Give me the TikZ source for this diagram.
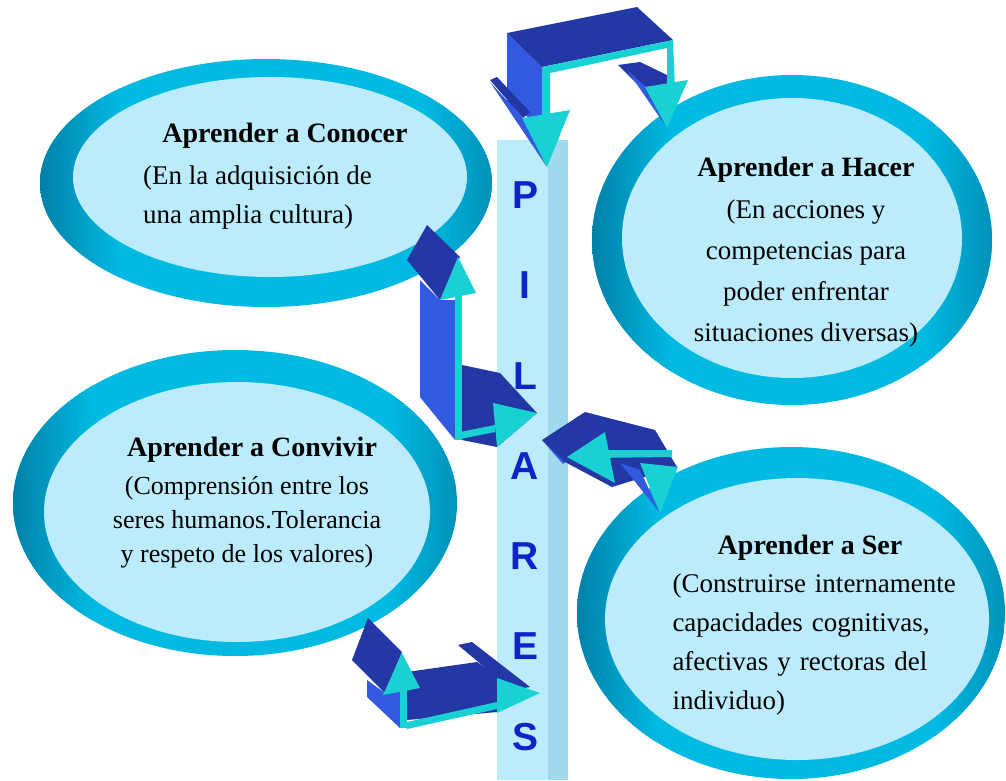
\documentclass[tikz,border=0pt]{standalone}
\usepackage{fontspec}
\setmainfont{Liberation Serif}
\newfontfamily\letrasfont{Liberation Sans}

\definecolor{anillo}{RGB}{0,186,226}
\definecolor{anillooscuro}{RGB}{0,128,168}
\definecolor{punto}{RGB}{188,236,252}
\definecolor{puntooscuro}{RGB}{160,218,240}
\definecolor{cTapa}{RGB}{35,55,165}
\definecolor{cLado}{RGB}{50,90,225}
\definecolor{cFrente}{RGB}{25,208,210}
\definecolor{cLetra}{RGB}{15,35,200}

\tikzset{
  titulo/.style={font=\fontsize{28}{34}\selectfont\bfseries, inner sep=0pt},
  texto/.style={font=\fontsize{27}{39}\selectfont, inner sep=0pt},
  letra/.style={font=\letrasfont\fontsize{39}{39}\selectfont\bfseries,
    text=cLetra, inner sep=0pt},
  tapa/.style={fill=cTapa},
  lado/.style={fill=cLado},
  frente/.style={fill=cFrente},
  punteado/.style={fill=punto},
}

\begin{document}
\begin{tikzpicture}[x=1pt,y=-1pt]

\newcommand\anillo[6]{%
  \begin{scope}[shift={(#1)}]
    \clip (0,0) ellipse [x radius=#2, y radius=#3];
    \fill[anillo] (-#2,-#3) rectangle (#2,#3);
    \shade[left color=anillooscuro, right color=anillo]
      (-#2,-#3) rectangle ({-#2+80},#3);
    \shade[left color=anillo, right color=anillooscuro!70!anillo]
      ({#2-70},-#3) rectangle (#2,#3);
  \end{scope}
  \fill[punteado] (#4) ellipse [x radius=#5, y radius=#6];
}

  \fill[white] (0,0) rectangle (1006,780);
  \useasboundingbox (0,0) rectangle (1006,780);

  %% column
  \fill[punteado] (497,140) rectangle (548,780);
  \fill[fill=puntooscuro] (548,140) rectangle (568,780);

  %% rings
  \anillo{266,183}{226}{124}{270,177}{197}{100}
  \anillo{792,240}{200}{165}{792,238}{170}{140}
  \anillo{235,503}{222}{153}{237,512}{193}{130}
  \anillo{791,613}{214}{166}{797,619}{192}{141}

  %% texts
  \node[titulo] (conocer) at (285,136) {Aprender a Conocer};
  \node[texto, anchor=west, align=left] (conocerTxt) at (143,197)
  {(En la adquisición de\\una amplia cultura)};

  \node[titulo] (hacer) at (806,170) {Aprender a Hacer};
  \node[texto, align=center, font=\fontsize{27}{41}\selectfont]
  (hacerTxt) at (806,273)
  {(En acciones y\\competencias para\\poder enfrentar\\situaciones diversas)};

  \node[titulo] (convivir) at (252,450) {Aprender a Convivir};
  \node[texto, align=center, font=\fontsize{26}{34}\selectfont]
  (convivirTxt) at (247,522)
  {(Comprensión entre los\\seres humanos.Tolerancia\\y respeto de los valores)};

  \node[titulo] (ser) at (810,548) {Aprender a Ser};
  \node[texto, align=left, text width=275pt] (serTxt) at (810,644)
  {\makebox[\linewidth][s]{(Construirse internamente}\\
   \makebox[\linewidth][s]{capacidades cognitivas,}\\
   \makebox[\linewidth][s]{afectivas y rectoras del}\\
   individuo)};

  %% letters
  \foreach \l [count=\i] in {P,I,L,A,R,E,S}
    \node[letra] (letra\i) at (525,{195+(\i-1)*90.3}) {\l};

  %% top arrow
  \fill[lado] (507,33) -- (542,67) -- (542,125) -- (507,105) -- cycle;
  \fill[tapa] (507,33) -- (637,7) -- (673,40) -- (542,67) -- cycle;
  \fill[tapa] (490,80) -- (497,77) -- (530,112) -- (523,118) -- cycle;
  \fill[lado] (490,82) -- (523,118) -- (547,167) -- cycle;
  \fill[frente] (522,118) -- (570,110) -- (547,167) -- cycle;
  \fill[tapa] (618,65) -- (640,62) -- (667,75) -- (667,88) -- (650,97) -- cycle;
  \fill[lado] (627,70) -- (647,88) -- (667,128) -- cycle;
  \fill[frente] (542,67) -- (673,40) -- (675,88) -- (667,88) -- (667,48)
    -- (550,73) -- (550,120) -- (542,120) -- cycle;
  \fill[frente] (645,87) -- (688,80) -- (667,128) -- cycle;

  %% left arrow
  \fill[lado] (420,280) -- (440,300) -- (455,300) -- (455,440) -- (420,397) -- cycle;
  \fill[tapa] (407,260) -- (427,225) -- (460,257) -- (440,300) -- cycle;
  \fill[tapa] (462,365) -- (500,373) -- (537,413) -- (497,447) -- (462,440) -- cycle;
  \fill[frente] (440,300) -- (458,257) -- (476,293) -- cycle;
  \fill[frente] (455,293) -- (462,293) -- (462,440) -- (455,440) -- cycle;
  \fill[frente] (455,433) -- (495,425) -- (495,432) -- (455,440) -- cycle;
  \fill[frente] (493,403) -- (537,413) -- (497,447) -- cycle;

  %% middle arrow
  \fill[lado] (542,440) -- (570,458) -- (563,464) -- cycle;
  \fill[tapa] (542,440) -- (585,412) -- (655,430) -- (677,467) -- (612,487)
    -- (565,462) -- cycle;
  \fill[frente] (567,457) -- (605,432) -- (615,483) -- cycle;
  \fill[frente] (590,450) -- (672,450) -- (672,457) -- (590,458) -- cycle;
  \fill[lado] (620,463) -- (640,470) -- (660,513) -- cycle;
  \fill[frente] (640,463) -- (678,467) -- (660,513) -- cycle;

  %% bottom arrow
  \fill[lado] (367,680) -- (385,693) -- (400,690) -- (400,728) -- (367,697) -- cycle;
  \fill[tapa] (352,660) -- (368,618) -- (402,652) -- (385,693) -- cycle;
  \fill[tapa] (458,645) -- (472,642) -- (530,687) -- (512,690) -- cycle;
  \fill[tapa] (407,672) -- (477,662) -- (497,675) -- (530,693) -- (497,712)
    -- (407,720) -- cycle;
  \fill[frente] (383,695) -- (402,653) -- (420,688) -- cycle;
  \fill[frente] (400,690) -- (407,690) -- (407,728) -- (400,728) -- cycle;
  \fill[frente] (407,722) -- (497,702) -- (497,709) -- (407,729) -- cycle;
  \fill[frente] (497,678) -- (540,693) -- (497,713) -- cycle;

\end{tikzpicture}
\end{document}
